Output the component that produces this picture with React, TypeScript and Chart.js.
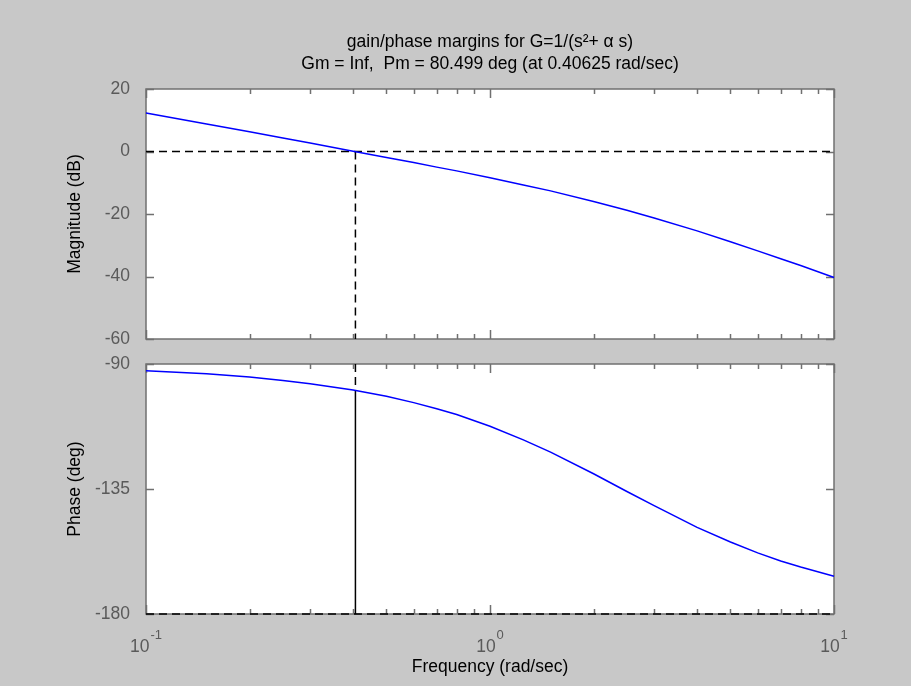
import React, { useEffect, useRef } from "react";
import { Chart, registerables } from "chart.js";
Chart.register(...registerables);

// ---- data ----
const FREQ = [0.1, 0.15, 0.2, 0.25, 0.3, 0.4, 0.5, 0.6, 0.7, 0.8, 1, 1.25, 1.5, 2, 2.5, 3, 4, 5, 6, 7, 8, 10];
const MAG_DB = [12.3, 8.8, 6.3, 4.3, 2.7, 0.1, -1.9, -3.5, -5.0, -6.2, -8.4, -10.7, -12.6, -16.0, -18.8, -21.3, -25.4, -28.9, -31.8, -34.3, -36.5, -40.3];
const PHASE_DEG = [-92.4, -93.5, -94.7, -95.9, -97.1, -99.4, -101.6, -103.9, -106.1, -108.2, -112.4, -117.3, -121.7, -129.5, -135.9, -141.0, -148.8, -154.1, -158.0, -160.9, -163.1, -166.4];

const MAG_TICKS = [20, 0, -20, -40, -60];
const PHASE_TICKS = [-90, -135, -180];
const FREQ_TICKS = [0.1, 0.2, 0.3, 0.4, 0.5, 0.6, 0.7, 0.8, 0.9, 1, 2, 3, 4, 5, 6, 7, 8, 9, 10];
const FREQ_DECADES = [0.1, 1, 10];
const DECADE_EXPONENTS = ["-1", "0", "1"];

const WC = 0.40625; // gain crossover (rad/sec)
const PM = 80.499; // phase margin (deg)

const TITLE = [
  "gain/phase margins for G=1/(s\u00B2+ \u03B1 s)",
  "Gm = Inf,  Pm = 80.499 deg (at 0.40625 rad/sec)",
];
const MAG_LABEL = "Magnitude (dB)";
const PHASE_LABEL = "Phase (deg)";
const FREQ_LABEL = "Frequency (rad/sec)";

// ---- styling ----
const FONT = "'Liberation Sans', Arial, Helvetica, sans-serif";
const FS = 17.5;
const TICK_COLOR = "#5a5a5a";
const BOX_COLOR = "#707070";
const BG = "#c8c8c8";
const W = 911;
const H = 686;
const H1 = 358;
const TOP2 = 345;
const H2 = H - TOP2;

const isDecade = (v: number) => FREQ_DECADES.some((d) => Math.abs(d - v) < 1e-9);

const matlabAxes = {
  id: "matlabAxes",
  beforeDraw(chart: any) {
    const { ctx, chartArea: a } = chart;
    ctx.save();
    ctx.fillStyle = "#ffffff";
    ctx.fillRect(a.left, a.top, a.right - a.left, a.bottom - a.top);
    ctx.restore();
  },
  beforeDatasetsDraw(chart: any) {
    const { ctx, chartArea: a, scales } = chart;
    const xs = scales.x;
    const ys = scales.y;
    ctx.save();
    ctx.strokeStyle = BOX_COLOR;
    ctx.lineWidth = 1.5;
    ctx.strokeRect(a.left, a.top, a.right - a.left, a.bottom - a.top);
    ctx.beginPath();
    xs.ticks.forEach((t: any) => {
      const px = Math.round(xs.getPixelForValue(t.value)) + 0.5;
      const len = isDecade(t.value) ? 9 : 5;
      ctx.moveTo(px, a.bottom);
      ctx.lineTo(px, a.bottom - len);
      ctx.moveTo(px, a.top);
      ctx.lineTo(px, a.top + len);
    });
    ys.ticks.forEach((t: any) => {
      const py = Math.round(ys.getPixelForValue(t.value)) + 0.5;
      ctx.moveTo(a.left, py);
      ctx.lineTo(a.left + 8, py);
      ctx.moveTo(a.right, py);
      ctx.lineTo(a.right - 8, py);
    });
    ctx.stroke();
    ctx.restore();
  },
  afterDraw(chart: any, _args: any, opts: any) {
    if (!opts || !opts.xLabels) return;
    const { ctx, chartArea: a, scales } = chart;
    const xs = scales.x;
    ctx.save();
    ctx.fillStyle = TICK_COLOR;
    ctx.textBaseline = "alphabetic";
    ctx.textAlign = "left";
    FREQ_DECADES.forEach((v, i) => {
      const px = xs.getPixelForValue(v);
      ctx.font = `${FS}px ${FONT}`;
      const wBase = ctx.measureText("10").width;
      ctx.font = `13px ${FONT}`;
      const wExp = ctx.measureText(DECADE_EXPONENTS[i]).width;
      const start = px - (wBase + wExp + 1) / 2;
      ctx.font = `${FS}px ${FONT}`;
      ctx.fillText("10", start, a.bottom + 38);
      ctx.font = `13px ${FONT}`;
      ctx.fillText(DECADE_EXPONENTS[i], start + wBase + 1, a.bottom + 25);
    });
    ctx.restore();
  },
};

function xScale(extra: any, height: number) {
  return {
    type: "logarithmic",
    min: 0.1,
    max: 10,
    grid: { display: false },
    border: { display: false },
    ticks: { display: false },
    afterBuildTicks: (s: any) => {
      s.ticks = FREQ_TICKS.map((v) => ({ value: v }));
    },
    afterFit: (s: any) => {
      s.height = height;
    },
    ...extra,
  };
}

function yScale(min: number, max: number, ticks: number[], label: string) {
  return {
    type: "linear",
    min,
    max,
    grid: { display: false },
    border: { display: false },
    ticks: {
      color: TICK_COLOR,
      font: { family: FONT, size: FS },
      padding: 8,
      callback: (v: any) => String(v),
    },
    afterBuildTicks: (s: any) => {
      s.ticks = ticks.map((v) => ({ value: v }));
    },
    afterFit: (s: any) => {
      s.width = 146;
    },
    title: {
      display: true,
      text: label,
      color: "#000000",
      font: { family: FONT, size: FS, lineHeight: "21px" },
      padding: { top: 65, bottom: 0 },
    },
  };
}

const dashed = { borderColor: "#000000", borderWidth: 1.5, borderDash: [8, 5], pointRadius: 0, showLine: true, clip: false };
const curve = { borderColor: "#0000ff", borderWidth: 1.5, pointRadius: 0, showLine: true, clip: false };

export default function App() {
  const ref1 = useRef<HTMLCanvasElement>(null);
  const ref2 = useRef<HTMLCanvasElement>(null);

  useEffect(() => {
    const phaseAtWc = PM - 180;
    const c1 = new Chart(ref1.current as HTMLCanvasElement, {
      type: "scatter",
      data: {
        datasets: [
          { ...curve, data: FREQ.map((f, i) => ({ x: f, y: MAG_DB[i] })) },
          { ...dashed, data: [{ x: FREQ[0], y: 0 }, { x: FREQ[FREQ.length - 1], y: 0 }] },
          { ...dashed, data: [{ x: WC, y: 0 }, { x: WC, y: MAG_TICKS[MAG_TICKS.length - 1] }] },
        ],
      } as any,
      options: {
        responsive: false,
        maintainAspectRatio: false,
        animation: false,
        devicePixelRatio: 1,
        layout: { padding: { left: 0, right: 77, top: 0, bottom: 0 } },
        plugins: {
          legend: { display: false },
          tooltip: { enabled: false },
          title: {
            display: true,
            text: TITLE,
            fullSize: false,
            color: "#000000",
            font: { family: FONT, size: FS, weight: "normal", lineHeight: "22px" },
            padding: { top: 31, bottom: 14 },
          },
          matlabAxes: { xLabels: false },
        } as any,
        scales: {
          x: xScale({}, 19),
          y: yScale(-60, 20, MAG_TICKS, MAG_LABEL),
        } as any,
      },
      plugins: [matlabAxes],
    });

    const c2 = new Chart(ref2.current as HTMLCanvasElement, {
      type: "scatter",
      data: {
        datasets: [
          { ...curve, data: FREQ.map((f, i) => ({ x: f, y: PHASE_DEG[i] })) },
          { ...dashed, data: [{ x: FREQ[0], y: -180 }, { x: FREQ[FREQ.length - 1], y: -180 }] },
          { ...dashed, data: [{ x: WC, y: -90 }, { x: WC, y: phaseAtWc }] },
          { borderColor: "#000000", borderWidth: 1.5, pointRadius: 0, showLine: true, clip: false, data: [{ x: WC, y: phaseAtWc }, { x: WC, y: -180 }] },
        ],
      } as any,
      options: {
        responsive: false,
        maintainAspectRatio: false,
        animation: false,
        devicePixelRatio: 1,
        layout: { padding: { left: 0, right: 77, top: 19, bottom: 0 } },
        plugins: {
          legend: { display: false },
          tooltip: { enabled: false },
          title: { display: false },
          matlabAxes: { xLabels: true },
        } as any,
        scales: {
          x: xScale(
            {
              title: {
                display: true,
                text: FREQ_LABEL,
                color: "#000000",
                font: { family: FONT, size: FS, lineHeight: "21px" },
                padding: { top: 0, bottom: 8 },
              },
            },
            72
          ),
          y: yScale(-180, -90, PHASE_TICKS, PHASE_LABEL),
        } as any,
      },
      plugins: [matlabAxes],
    });

    return () => {
      c1.destroy();
      c2.destroy();
    };
  }, []);

  return (
    <div style={{ position: "absolute", left: 0, top: 0, width: W, height: H, background: BG, overflow: "hidden" }}>
      <canvas ref={ref1} width={W} height={H1} style={{ position: "absolute", left: 0, top: 0, width: W, height: H1 }} />
      <canvas ref={ref2} width={W} height={H2} style={{ position: "absolute", left: 0, top: TOP2, width: W, height: H2 }} />
    </div>
  );
}
